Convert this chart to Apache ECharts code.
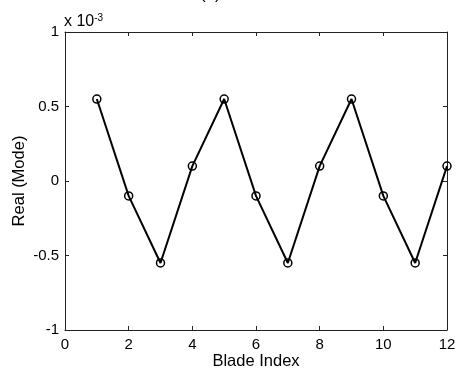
<!DOCTYPE html>
<html>
<head>
<meta charset="utf-8">
<script src="https://cdn.jsdelivr.net/npm/echarts@6/dist/echarts.min.js"></script>
<style>
  html, body { margin: 0; padding: 0; background: #fff; }
  #chart { width: 456px; height: 374px; }
</style>
</head>
<body>
<div id="chart"></div>
<script>
// blade index and real part of mode shape (x 1e-3)
var bladeIndex = [1, 2, 3, 4, 5, 6, 7, 8, 9, 10, 11, 12];
var realMode = [0.55, -0.1, -0.55, 0.1, 0.55, -0.1, -0.55, 0.1, 0.55, -0.1, -0.55, 0.1];
var xTicks = [0, 2, 4, 6, 8, 10, 12];
var yTicks = [-1, -0.5, 0, 0.5, 1];

var font = '"Liberation Sans", Arial, sans-serif';
var frame = '#222';

var points = bladeIndex.map(function (b, i) { return [b, realMode[i]]; });

function boxAxis(show) {
    return {
        axisLine: { show: true, onZero: false, lineStyle: { color: frame, width: 1 } },
        axisTick: { show: true, inside: true, length: 4, lineStyle: { color: frame } },
        splitLine: { show: false },
        axisLabel: { show: show, color: '#000', fontFamily: font, fontSize: 15 }
    };
}

var xBottom = Object.assign(boxAxis(true), {
    type: 'value', min: xTicks[0], max: xTicks[xTicks.length - 1], interval: 2, position: 'bottom',
    name: 'Blade Index', nameLocation: 'middle', nameGap: 23, nameMoveOverlap: false,
    nameTextStyle: { color: '#000', fontFamily: font, fontSize: 16.5 }
});
xBottom.axisLabel.margin = 7;
var xTop = Object.assign(boxAxis(false), {
    type: 'value', min: xTicks[0], max: xTicks[xTicks.length - 1], interval: 2, position: 'top'
});
var yLeft = Object.assign(boxAxis(true), {
    type: 'value', min: yTicks[0], max: yTicks[yTicks.length - 1], interval: 0.5, position: 'left',
    name: 'Real (Mode)', nameLocation: 'middle', nameGap: 37, nameMoveOverlap: false,
    nameTextStyle: { color: '#000', fontFamily: font, fontSize: 16.5 }
});
yLeft.axisLabel.margin = 6;
var yRight = Object.assign(boxAxis(false), {
    type: 'value', min: yTicks[0], max: yTicks[yTicks.length - 1], interval: 0.5, position: 'right'
});

var chart = echarts.init(document.getElementById('chart'));
chart.setOption({
    animation: false,
    backgroundColor: '#fff',
    title: {
        text: '(a)', left: 195, top: -19,
        textStyle: { color: '#000', fontFamily: font, fontSize: 17, fontWeight: 'normal' }
    },
    grid: { left: 65, right: 9, top: 32, bottom: 44, containLabel: false, outerBoundsMode: 'none' },
    xAxis: [xBottom, xTop],
    yAxis: [yLeft, yRight],
    graphic: [{
        type: 'text', left: 64, top: 13,
        style: {
            text: 'x 10{sup|-3}',
            fill: '#000', font: '16px ' + font,
            rich: { sup: { fontSize: 10, verticalAlign: 'top', padding: [0, 0, 8, 0], fontFamily: font } }
        }
    }],
    series: [{
        type: 'line',
        data: points,
        symbol: 'circle',
        symbolSize: 8,
        lineStyle: { color: '#000', width: 2 },
        itemStyle: { color: 'rgba(255,255,255,0)', borderColor: '#000', borderWidth: 1.5 }
    }]
});
</script>
</body>
</html>
